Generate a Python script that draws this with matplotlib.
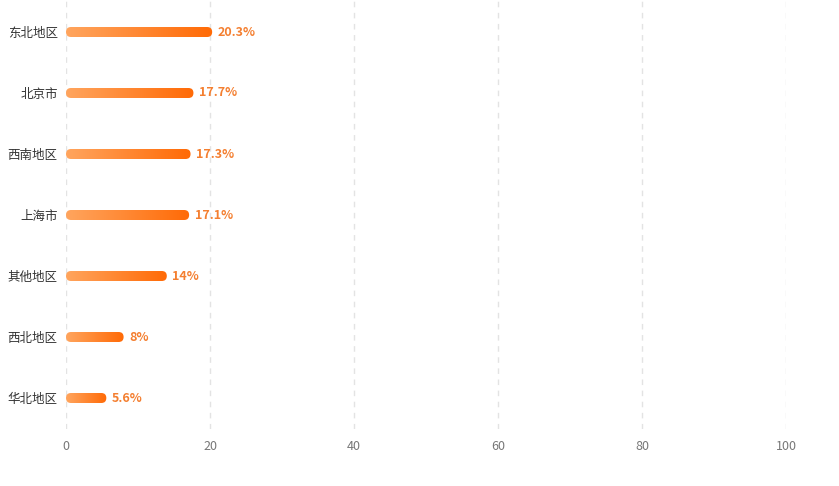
import numpy as np
import matplotlib.pyplot as plt
from matplotlib.patches import FancyBboxPatch
from matplotlib.colors import LinearSegmentedColormap

plt.rcParams['font.family'] = ['Noto Sans CJK SC', 'DejaVu Sans']

regions = ["东北地区", "北京市", "西南地区", "上海市", "其他地区", "西北地区", "华北地区"]
shares = [20.3, 17.7, 17.3, 17.1, 14, 8, 5.6]
share_labels = ["20.3%", "17.7%", "17.3%", "17.1%", "14%", "8%", "5.6%"]
x_ticks = [0, 20, 40, 60, 80, 100]

fig = plt.figure(figsize=(8.39, 4.86), dpi=100)
ax = fig.add_axes([66 / 839, 57.5 / 486, 720 / 839, 427 / 486])

n = len(regions)
ax.set_xlim(0, 100)
ax.set_ylim(n - 0.5, -0.5)

px_x = 720 / 100
px_y = 427 / n
bar_h = 10 / px_y
r_x = 5 / px_x
r_y = 5 / px_y

cmap = LinearSegmentedColormap.from_list("org", ["#ffa55e", "#ff6a06"])
grad = np.linspace(0, 1, 256).reshape(1, -1)

for i, (v, lab) in enumerate(zip(shares, share_labels)):
    patch = FancyBboxPatch((0, i - bar_h / 2), v, bar_h,
                           boxstyle=f"round,pad=0,rounding_size={r_x}",
                           mutation_aspect=r_y / r_x,
                           facecolor="none", edgecolor="none")
    ax.add_patch(patch)
    im = ax.imshow(grad, cmap=cmap, aspect="auto",
                   extent=[0, v, i + bar_h / 2, i - bar_h / 2], zorder=3)
    im.set_clip_path(patch)
    ax.text(v + 0.75, i, lab, color="#f47f30", fontsize=9, va="center",
            ha="left", fontweight="bold", zorder=4)

ax.set_xlim(0, 100)
ax.set_ylim(n - 0.5, -0.5)
ax.set_yticks(range(n))
ax.set_yticklabels(regions, fontsize=9, color="#333333")
ax.set_xticks(x_ticks)
ax.set_xticklabels([str(t) for t in x_ticks], fontsize=9, color="#777777")
ax.tick_params(length=0)
ax.tick_params(axis="y", pad=6)
ax.tick_params(axis="x", pad=8)
for s in ax.spines.values():
    s.set_visible(False)
ax.grid(axis="x", linestyle=(0, (4, 4)), color="#e3e3e3", linewidth=1)
ax.set_axisbelow(True)

fig.savefig("out.png", dpi=100)
